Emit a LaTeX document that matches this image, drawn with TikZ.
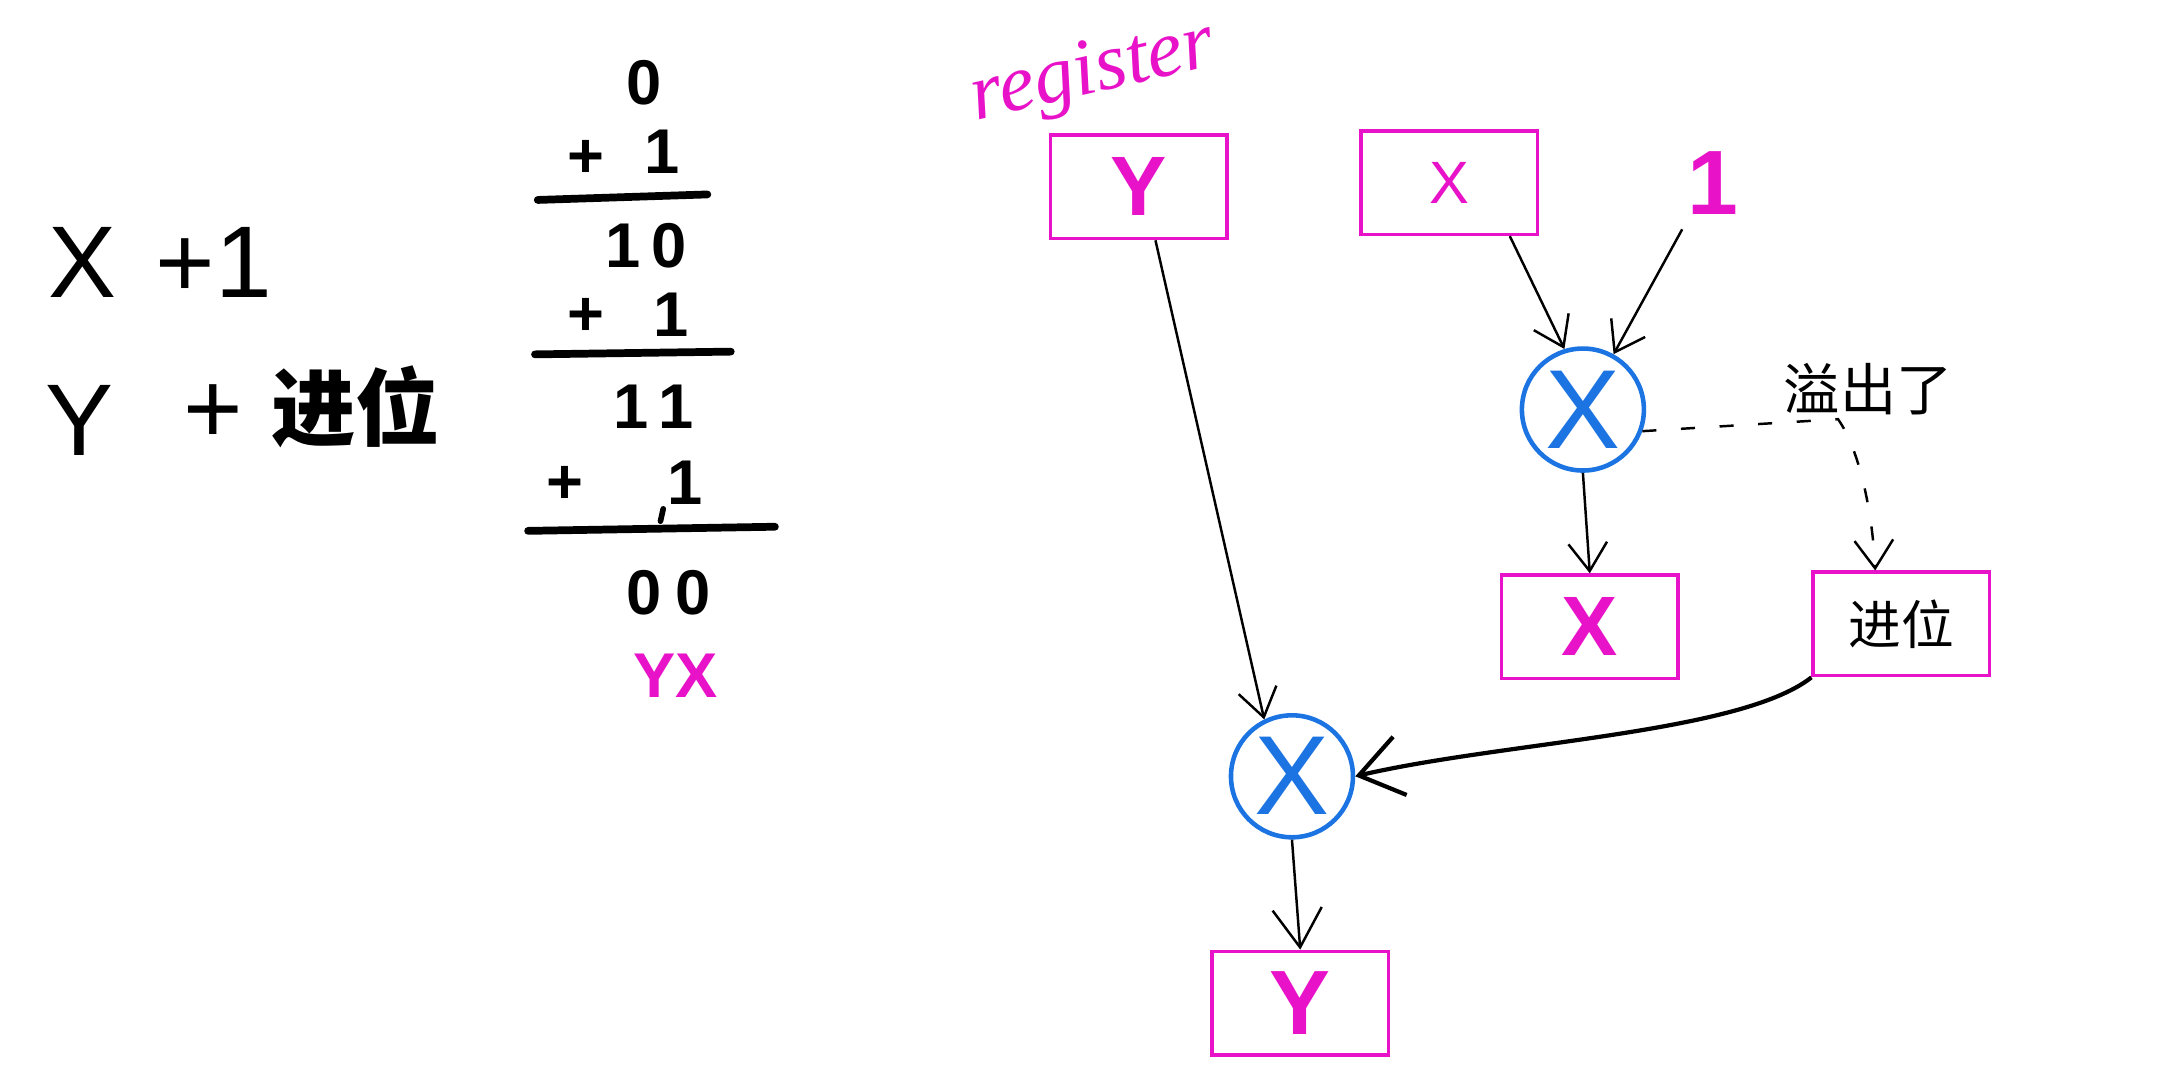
\documentclass[tikz,border=0pt]{standalone}
\usepackage{fontspec}
\setmainfont{Liberation Sans}
\newfontfamily\cjk{Noto Sans CJK SC}
\newfontfamily\regfont{Liberation Serif}
\usepackage{tikz}
\usetikzlibrary{arrows.meta,calc}
\definecolor{penpink}{RGB}{232,18,200}
\definecolor{penblue}{RGB}{28,116,226}

\begin{document}
\begin{tikzpicture}[x=0.1379mm,y=-0.1379mm,
  every node/.style={inner sep=0pt},
  reg/.style={draw=penpink,line width=1pt,minimum width=17.65mm,minimum height=10.34mm,
    text=penpink,font=\fontsize{24}{24}\selectfont\bfseries},
  adder/.style={circle,draw=penblue,line width=1.3pt,minimum size=12.2mm,text=penblue,
    font=\fontsize{32}{32}\selectfont},
  digit/.style={font=\fontsize{18}{18}\selectfont\bfseries},
  big/.style={font=\fontsize{29}{29}\selectfont},
  wire/.style={line width=0.7pt,-{Straight Barb[length=8pt,width=11pt]}}]
  \useasboundingbox (0,0) rectangle (1568,790);
  \node[big] (lx) at (60,190) {X};
  \node[big] (lplus) at (155,190) {+1};
  \node[big] (ly) at (58,305) {Y};
  \node[big] (lplustwo) at (155,300) {+};
  \node[big,font=\cjk\fontsize{24}{24}\selectfont\bfseries] (lcarry) at (258,295) {进位};
  \foreach \px/\py/\d [count=\k] in {467/60/0,425/115/+,480/110/1,452/178/1,485/178/0,
      425/230/+,487/228/1,458/295/1,490/295/1,410/352/+,497/350/1,467/430/0,503/430/0}
    \node[digit] (d\k) at (\px,\py) {\d};
  \node[digit,text=penpink] (yx) at (490,490) {YX};
  \draw[line width=2.2pt,line cap=round] (390,145) -- (513,141);
  \draw[line width=2.2pt,line cap=round] (388,257) -- (530,255);
  \draw[line width=2.2pt,line cap=round] (383,385) -- (562,382);
  \draw[line width=1.6pt,line cap=round] (479,378) -- (481,369);
  \node[font=\regfont\itshape\fontsize{23}{23}\selectfont,text=penpink,rotate=13] (regword) at (793,54) {register};
  \node[reg] (regY) at (826,135.5) {Y};
  \node[reg,font=\fontsize{17}{17}\selectfont] (regX) at (1051,132.5) {X};
  \node[text=penpink,font=\fontsize{26}{26}\selectfont\bfseries] (one) at (1242,133) {1};
  \node[adder] (c1) at (1148,297) {X};
  \node[font=\cjk\fontsize{16}{16}\selectfont] (overflow) at (1355,282) {溢出了};
  \node[reg] (outX) at (1153,454.5) {X};
  \node[reg,text=black,font=\cjk\fontsize{15}{15}\selectfont] (carry) at (1379,452.5) {进位};
  \node[adder] (c2) at (937,563) {X};
  \node[reg,font=\fontsize{26}{26}\selectfont\bfseries] (outY) at (943,727.5) {Y};
  \coordinate (bend) at (1333,304);
  \draw[wire] ($(regY.south)+(12,0)$) -- (c2.116);
  \draw[wire] ($(regX.south)+(44,0)$) -- (c1.107);
  \draw[wire] ($(one.south)+(-22,10)$) -- (c1.61);
  \draw[wire] (c1.south) -- (outX.north);
  \draw[wire,dash pattern=on 4pt off 7pt] (c1.-20) -- (bend)
    .. controls (1348,325) and (1358,370) .. ($(carry.north)+(-19,0)$);
  \draw[wire,line width=1.2pt,-{Straight Barb[length=12pt,width=17pt]}] (carry.south west)
    .. controls (1262,532) and (1090,538) .. (c2.east);
  \draw[wire,-{Straight Barb[length=11pt,width=14pt]}] (c2.south) -- (outY.north);
\end{tikzpicture}
\end{document}
